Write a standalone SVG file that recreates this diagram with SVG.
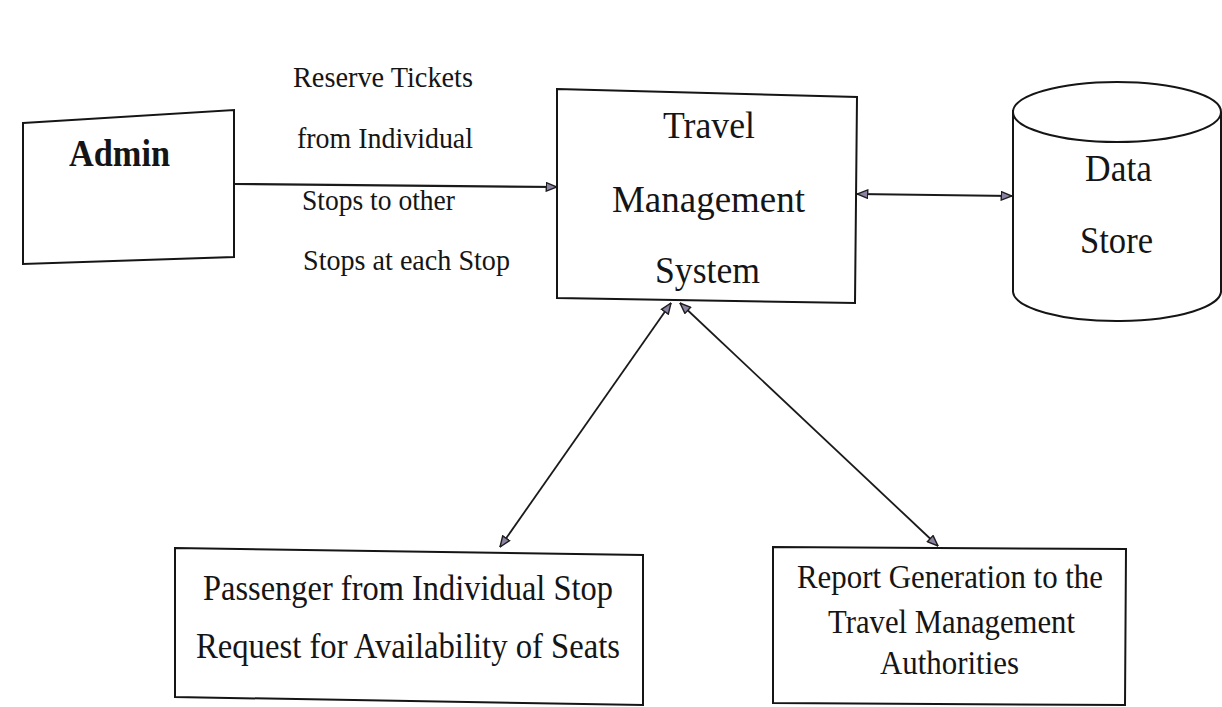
<svg xmlns="http://www.w3.org/2000/svg" width="1222" height="707" viewBox="0 0 1222 707">
  <style>
    .box { fill: #ffffff; stroke: #151515; stroke-width: 2; stroke-linejoin: miter; }
    .conn { fill: none; stroke: #1a1a1a; stroke-width: 1.8; }
    .conn.thick { stroke-width: 2.2; }
    .t { font-family: "Liberation Serif", "Times New Roman", serif; fill: #151515; }
    .lbl { font-size: 30px; }
    .main { font-size: 38px; text-anchor: middle; }
    .sub { font-size: 35px; text-anchor: middle; }
    .rep { font-size: 33px; text-anchor: middle; }
    .ds { font-size: 37px; text-anchor: middle; }
    .adm { font-size: 38px; font-weight: bold; text-anchor: middle; }
  </style>
  <defs>
    <marker id="ah" viewBox="0 0 12 10" refX="11.5" refY="5" markerWidth="12" markerHeight="10" markerUnits="userSpaceOnUse" orient="auto-start-reverse">
      <path d="M0.8,0.8 L11.5,5 L0.8,9.2 z" fill="#8c82a3" stroke="#1e1e1e" stroke-width="1.4" stroke-linejoin="miter"/>
    </marker>
  </defs>
  <rect width="1222" height="707" fill="#ffffff"/>

  <g id="connectors">
    <line class="conn thick" x1="234" y1="184" x2="557" y2="187" marker-end="url(#ah)"/>
    <line class="conn thick" x1="857" y1="194" x2="1012" y2="196" marker-start="url(#ah)" marker-end="url(#ah)"/>
    <line class="conn" x1="671" y1="303" x2="500" y2="547" marker-start="url(#ah)" marker-end="url(#ah)"/>
    <line class="conn" x1="680" y1="303" x2="938" y2="546" marker-start="url(#ah)" marker-end="url(#ah)"/>
  </g>

  <g id="flow-label">
    <text class="t lbl" x="293" y="87" textLength="180" lengthAdjust="spacingAndGlyphs">Reserve Tickets</text>
    <text class="t lbl" x="297" y="148" textLength="176" lengthAdjust="spacingAndGlyphs">from Individual</text>
    <text class="t lbl" x="302" y="210" textLength="153" lengthAdjust="spacingAndGlyphs">Stops to other</text>
    <text class="t lbl" x="303" y="270" textLength="207" lengthAdjust="spacingAndGlyphs">Stops at each Stop</text>
  </g>

  <g id="admin">
    <polygon class="box" points="23,123 234,110 234,257 23,264"/>
    <text class="t adm" x="119.5" y="166" textLength="101" lengthAdjust="spacingAndGlyphs">Admin</text>
  </g>

  <g id="tms">
    <polygon class="box" points="557,89 857,97 855,303 557,298"/>
    <text class="t main" x="709" y="138" textLength="92" lengthAdjust="spacingAndGlyphs">Travel</text>
    <text class="t main" x="708.5" y="212" textLength="193" lengthAdjust="spacingAndGlyphs">Management</text>
    <text class="t main" x="707.5" y="283" textLength="105" lengthAdjust="spacingAndGlyphs">System</text>
  </g>

  <g id="datastore">
    <path class="box" d="M1013,110 L1013,292 A104,30 0 0 0 1221,290 L1221,112"/>
    <ellipse class="box" cx="1117" cy="112" rx="104" ry="30"/>
    <text class="t ds" x="1118.5" y="181" textLength="67" lengthAdjust="spacingAndGlyphs">Data</text>
    <text class="t ds" x="1116.5" y="253" textLength="73" lengthAdjust="spacingAndGlyphs">Store</text>
  </g>

  <g id="passenger">
    <polygon class="box" points="175,548 643,555 643,705 175,697"/>
    <text class="t sub" x="408" y="600" textLength="410" lengthAdjust="spacingAndGlyphs">Passenger from Individual Stop</text>
    <text class="t sub" x="408" y="658" textLength="424" lengthAdjust="spacingAndGlyphs">Request for Availability of Seats</text>
  </g>

  <g id="report">
    <polygon class="box" points="773,547 1126,549 1125,705 773,703"/>
    <text class="t rep" x="950" y="588" textLength="306" lengthAdjust="spacingAndGlyphs">Report Generation to the</text>
    <text class="t rep" x="951.5" y="633" textLength="247" lengthAdjust="spacingAndGlyphs">Travel Management</text>
    <text class="t rep" x="949.5" y="674" textLength="139" lengthAdjust="spacingAndGlyphs">Authorities</text>
  </g>
</svg>
